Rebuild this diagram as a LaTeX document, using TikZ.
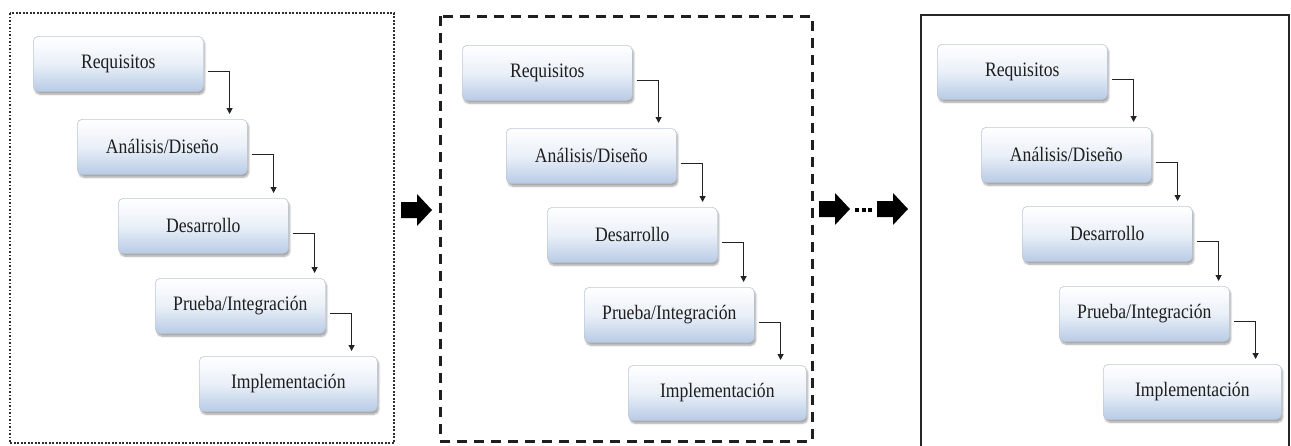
\documentclass[tikz,border=0pt]{standalone}
\usepackage{fontspec}
\newfontfamily\boxfont[FakeStretch=0.86]{Liberation Serif}
\usetikzlibrary{calc,arrows.meta,shadows.blur}

\definecolor{boxblue}{RGB}{184,203,230}
\definecolor{boxmid}{RGB}{234,240,248}
\definecolor{boxline}{RGB}{190,200,216}
\definecolor{textgray}{RGB}{30,30,30}
\definecolor{linegray}{RGB}{35,35,35}
\definecolor{framegray}{RGB}{45,45,45}

\tikzset{
  stage/.style={draw=boxline, line width=0.6pt, rounded corners=5pt,
    top color=white, bottom color=boxblue, middle color=boxmid,
    minimum width=170pt, minimum height=55pt, inner sep=0pt,
    anchor=north west, text=textgray,
    font=\boxfont\fontsize{20.5}{22}\selectfont,
    blur shadow={shadow xshift=1.5pt, shadow yshift=-3pt,
      shadow opacity=35, shadow blur steps=6}},
  widestage/.style={stage, minimum width=178pt},
  conn/.style={draw=linegray, line width=1.1pt,
    -{Triangle[length=6pt,width=6pt]}},
  dotframe/.style={draw=framegray, line width=2pt,
    dash pattern=on 1.8pt off 1.7pt},
  dashframe/.style={draw=black!88, line width=3pt,
    dash pattern=on 10pt off 7pt},
  solidframe/.style={draw=black!85, line width=2.4pt},
  blockarrow/.style={fill=black, draw=none},
}

% one waterfall cascade: #1 name prefix, #2/#3 top-left corner of the first box
\newcommand\cascade[3]{%
  \node[stage]     (#1r) at (#2,#3)         {Requisitos};
  \node[stage]     (#1a) at (#2+44,#3+83)   {Análisis/Diseño};
  \node[stage]     (#1d) at (#2+85,#3+162)  {Desarrollo};
  \node[stage]     (#1p) at (#2+122,#3+242) {Prueba/Integración};
  \node[widestage] (#1i) at (#2+166,#3+320) {Implementación};
  \draw[conn] ($(#1r.east)+(4,8)$) -| ($(#1r.east |- #1a.north)+(26,-5)$);
  \draw[conn] ($(#1a.east)+(4,8)$) -| ($(#1a.east |- #1d.north)+(26,-5)$);
  \draw[conn] ($(#1d.east)+(4,8)$) -| ($(#1d.east |- #1p.north)+(26,-5)$);
  \draw[conn] ($(#1p.east)+(4,8)$) -| ($(#1p.east |- #1i.north)+(26,-5)$);
}

% thick right-pointing block arrow with its tip at (#1,#2)
\newcommand\bigarrow[2]{%
  \fill[blockarrow] (#1-31,#2-8) -- (#1-15,#2-8) -- (#1-15,#2-16)
    -- (#1,#2) -- (#1-15,#2+16) -- (#1-15,#2+8) -- (#1-31,#2+8) -- cycle;
}

\begin{document}
\begin{tikzpicture}[x=1pt, y=-1pt]
  \useasboundingbox (0,0) rectangle (1291,445);

  % iteration frames
  \draw[dotframe]   (10,13)  rectangle (394,443);
  \draw[dashframe]  (440,16) rectangle (812,441);
  \draw[solidframe] (921,15) rectangle (1289,450);

  % cascades
  \cascade{pa}{33}{36}
  \cascade{pb}{462}{45}
  \cascade{pc}{937}{44}

  % arrows between iterations
  \bigarrow{432}{210}
  \bigarrow{850}{209}
  \draw[draw=black, line width=4pt, dash pattern=on 4pt off 2.5pt]
    (855,210) -- (873,210);
  \bigarrow{908}{209}
\end{tikzpicture}
\end{document}
